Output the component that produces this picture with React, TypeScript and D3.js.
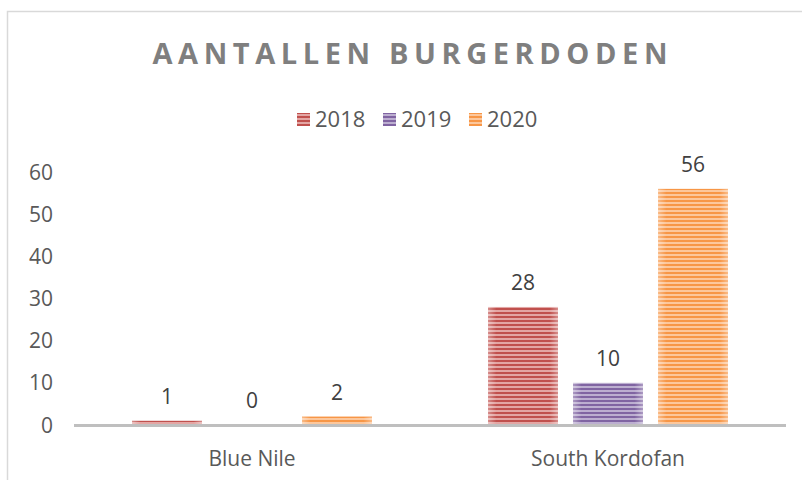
import React from "react";
import * as d3 from "d3";

const categories = ["Blue Nile", "South Kordofan"];
const years = ["2018", "2019", "2020"];
const values2018 = [1, 28];
const values2019 = [0, 10];
const values2020 = [2, 56];
const yTicks = [0, 10, 20, 30, 40, 50, 60];
const title = "AANTALLEN BURGERDODEN";

const seriesValues: number[][] = [values2018, values2019, values2020];
const colors = ["#c0504d", "#8064a2", "#f79646"];
const lightColors = ["#e3a6a4", "#bcaed0", "#fcc79c"];

const W = 802;
const H = 480;
const FONT = "'Open Sans', 'Noto Sans', sans-serif";

export default function App() {
  const x0 = d3.scaleBand<string>().domain(categories).range([74, 786]);
  const x1 = d3
    .scaleBand<string>()
    .domain(years)
    .range([58, 298])
    .paddingInner(15 / 85);
  const y = d3.scaleLinear().domain([0, 60]).range([425, 172]);

  return (
    <svg
      width={W}
      height={H}
      style={{ position: "absolute", left: 0, top: 0, background: "#fff" }}
      fontFamily={FONT}
    >
      <defs>
        {years.map((yr, i) => (
          <pattern
            key={yr}
            id={`stripe-${i}`}
            patternUnits="userSpaceOnUse"
            width={8}
            height={4}
          >
            <rect width={8} height={4} fill={lightColors[i]} />
            <rect width={8} height={2} fill={colors[i]} />
          </pattern>
        ))}
        <linearGradient id="edgeGlow" x1="0" x2="1" y1="0" y2="0">
          <stop offset="0" stopColor="#fff" stopOpacity={0.35} />
          <stop offset="0.12" stopColor="#fff" stopOpacity={0} />
          <stop offset="0.88" stopColor="#fff" stopOpacity={0} />
          <stop offset="1" stopColor="#fff" stopOpacity={0.35} />
        </linearGradient>
      </defs>
      <rect x={7.5} y={11.5} width={W} height={H} fill="#fff" stroke="#d9d9d9" strokeWidth={1.5} />

      <text
        x={410}
        y={64}
        textAnchor="middle"
        fontSize={29}
        fontWeight="bold"
        fill="#7f7f7f"
        textLength={515}
        lengthAdjust="spacing"
      >
        {title}
      </text>

      {years.map((yr, i) => {
        const lx = [297, 383, 469][i];
        return (
          <g key={yr}>
            <rect x={lx} y={113} width={13} height={13} fill={`url(#stripe-${i})`} />
            <text x={lx + 18} y={127} fontSize={22} fill="#595959">
              {yr}
            </text>
          </g>
        );
      })}

      {yTicks.map((t) => (
        <text key={t} x={53} y={y(t)} dy="0.36em" textAnchor="end" fontSize={21} fill="#595959">
          {t}
        </text>
      ))}

      {categories.map((c, ci) => (
        <g key={c} transform={`translate(${x0(c)},0)`}>
          {years.map((yr, si) => {
            const v = seriesValues[si][ci];
            const bx = x1(yr)!;
            const top = y(v);
            const h = y(0) - top;
            return (
              <g key={yr}>
                {h > 0 && (
                  <>
                    <rect x={bx} y={top} width={x1.bandwidth()} height={h} fill={`url(#stripe-${si})`} />
                    <rect x={bx} y={top} width={x1.bandwidth()} height={h} fill="url(#edgeGlow)" />
                  </>
                )}
                <text
                  x={bx + x1.bandwidth() / 2}
                  y={top - 17}
                  textAnchor="middle"
                  fontSize={21}
                  fill="#404040"
                >
                  {v}
                </text>
              </g>
            );
          })}
          <text
            x={x0.bandwidth() / 2}
            y={466}
            textAnchor="middle"
            fontSize={21}
            fill="#595959"
          >
            {c}
          </text>
        </g>
      ))}

      <line x1={74} x2={786} y1={y(0) + 0.5} y2={y(0) + 0.5} stroke="#bfbfbf" strokeWidth={3} />
    </svg>
  );
}
